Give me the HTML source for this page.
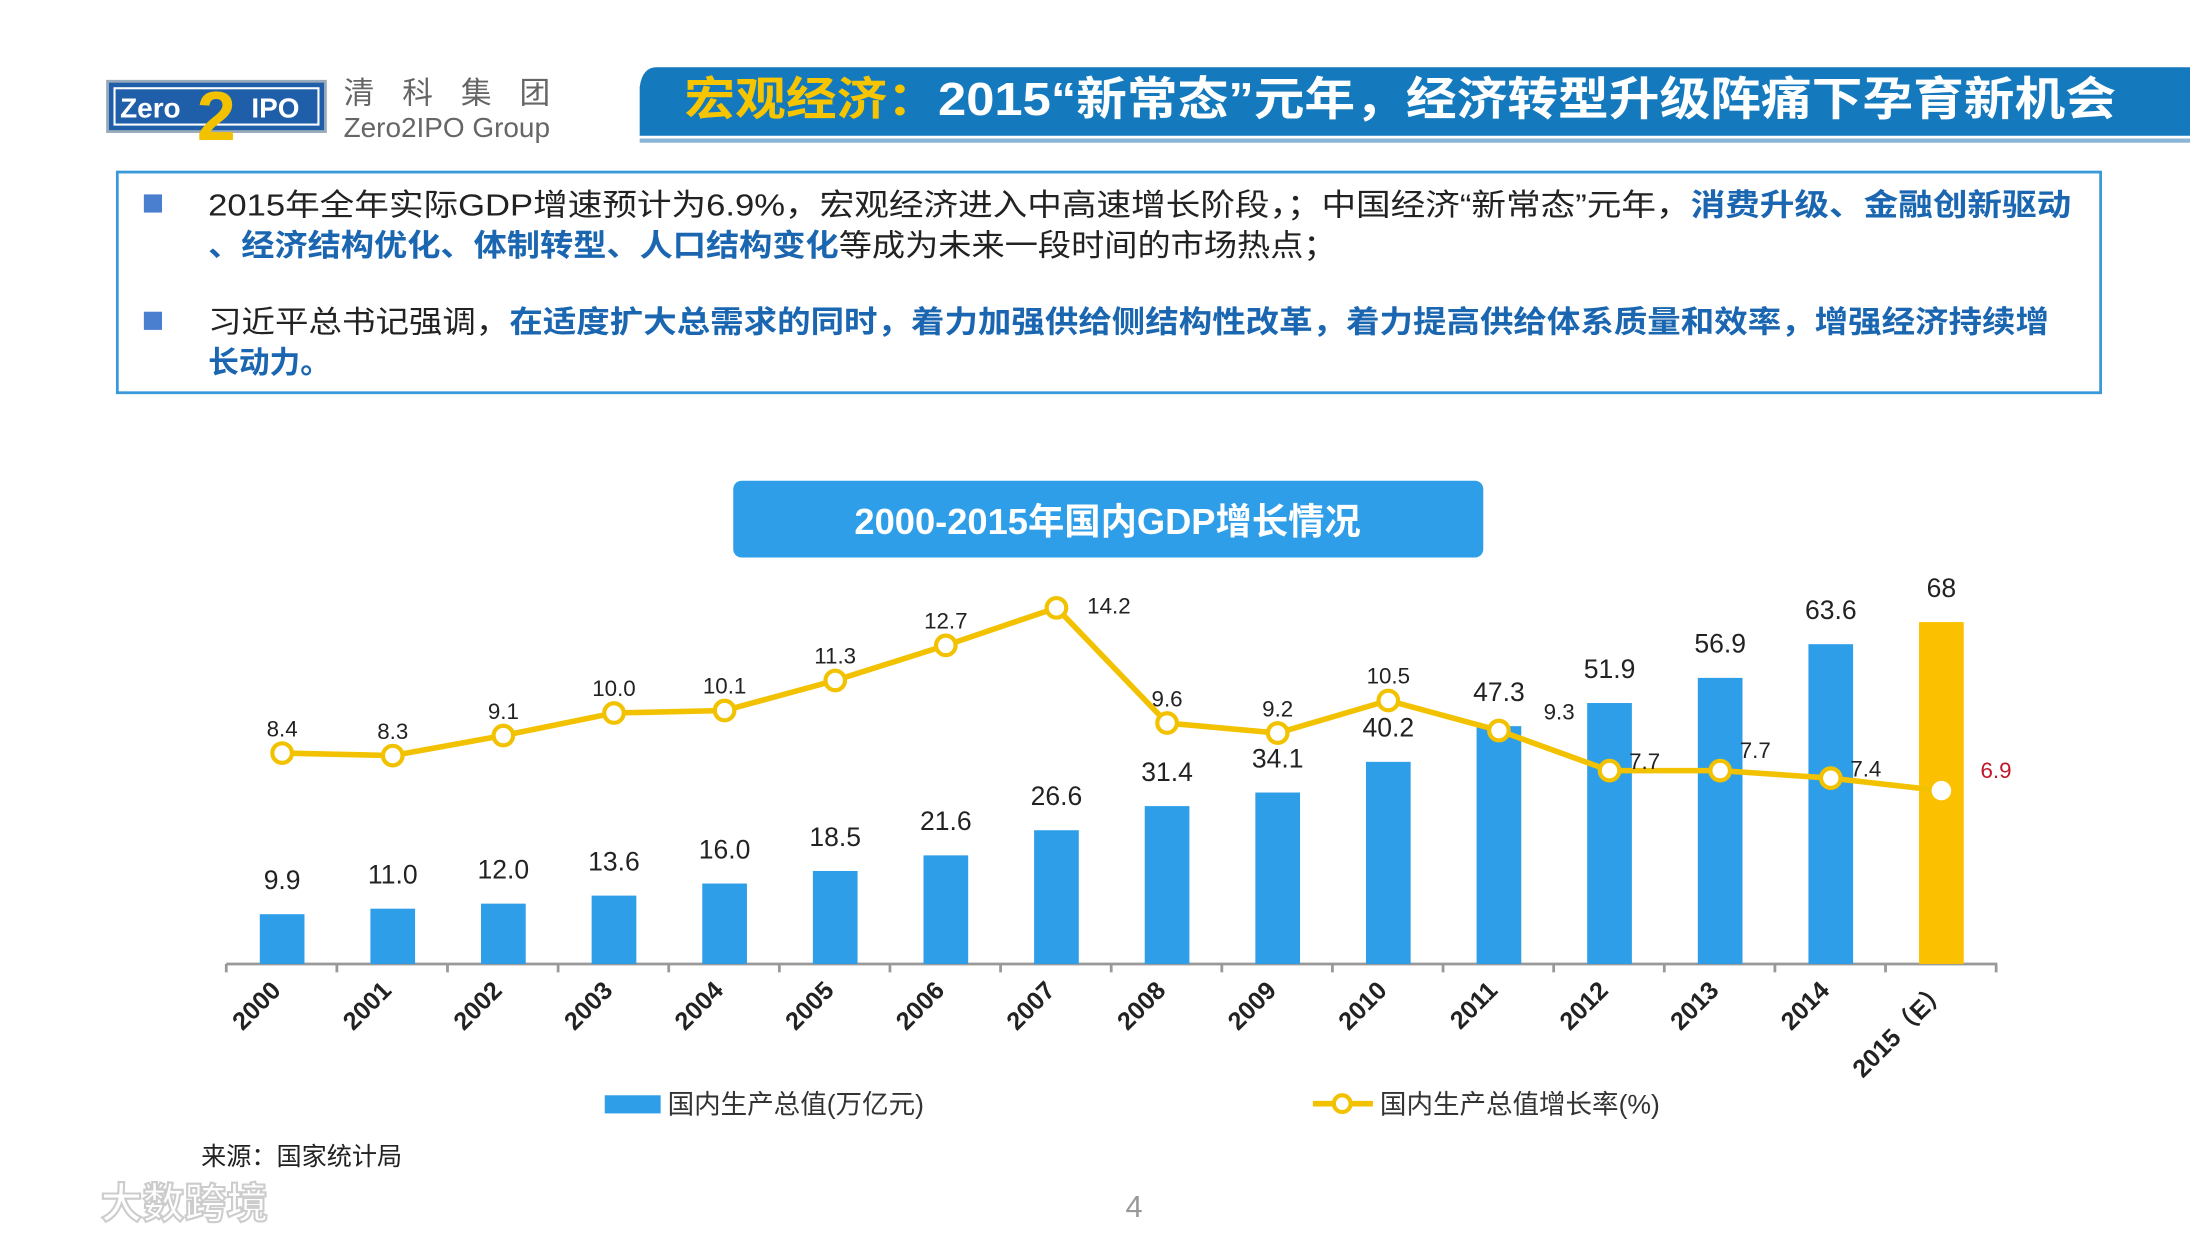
<!DOCTYPE html>
<html><head><meta charset="utf-8"><style>
html,body{margin:0;padding:0;background:#fff;}
svg{display:block;}
text{font-family:"Liberation Sans","Noto Sans CJK SC",sans-serif;}
</style></head><body>
<svg id="s" width="2190" height="1238" viewBox="0 0 1568 886" xmlns="http://www.w3.org/2000/svg">
<g>
<rect x="77" y="58" width="156" height="36" fill="#1f5ea8" stroke="#9ab" stroke-width="2"/>
<rect x="82" y="63" width="146" height="26" fill="#1f5ea8" stroke="#fff" stroke-width="1.5"/>
<text x="86" y="84" font-size="20" font-weight="bold" fill="#fff" font-family="Liberation Mono">Zero</text>
<text x="141" y="100" font-size="50" font-weight="bold" fill="#f2c200" font-family="Liberation Serif">2</text>
<text x="180" y="84" font-size="20" font-weight="bold" fill="#fff" font-family="Liberation Mono">IPO</text>
<text x="246" y="74" font-size="22" fill="#666" letter-spacing="20">清科集团</text>
<text x="246" y="98" font-size="20" fill="#666">Zero2IPO Group</text>
</g>
<g>
<path d="M470,48 L1568,48 L1568,97 L458,97 L458,62 Q460,48 470,48Z" fill="#1479bd"/>
<rect x="458" y="99" width="1110" height="3" fill="#8ab5d6"/>
<text x="490" y="82" font-size="33" font-weight="bold" fill="#f7c500" textLength="1025" lengthAdjust="spacingAndGlyphs">宏观经济：<tspan fill="#fff">2015“新常态”元年，经济转型升级阵痛下孕育新机会</tspan></text>
</g>
<g>
<rect x="84" y="123" width="1420" height="158" fill="#fff" stroke="#3a9ad9" stroke-width="2"/>
<rect x="103" y="139" width="13" height="13" fill="#4a7fd0"/>
<rect x="103" y="223" width="13" height="13" fill="#4a7fd0"/>
<text x="149" y="154" font-size="22" fill="#222" textLength="1334" lengthAdjust="spacingAndGlyphs">2015年全年实际GDP增速预计为6.9%，宏观经济进入中高速增长阶段，；中国经济“新常态”元年，<tspan fill="#1b66b0" font-weight="bold">消费升级、金融创新驱动</tspan></text>
<text x="149" y="183" font-size="22" fill="#222" textLength="808" lengthAdjust="spacingAndGlyphs"><tspan fill="#1b66b0" font-weight="bold">、经济结构优化、体制转型、人口结构变化</tspan>等成为未来一段时间的市场热点；</text>
<text x="149" y="238" font-size="22" fill="#222" textLength="1318" lengthAdjust="spacingAndGlyphs">习近平总书记强调，<tspan fill="#1b66b0" font-weight="bold">在适度扩大总需求的同时，着力加强供给侧结构性改革，着力提高供给体系质量和效率，增强经济持续增</tspan></text>
<text x="149" y="267" font-size="22" fill="#1b66b0" font-weight="bold">长动力。</text>
</g>
<g>
<rect x="525" y="344" width="537" height="55" rx="6" fill="#2f9ee8"/>
<text x="793" y="382" font-size="26" font-weight="bold" fill="#fff" text-anchor="middle">2000-2015年国内GDP增长情况</text>
</g>
<g id="chart"></g>
<g>
<rect x="433" y="784" width="40" height="13" fill="#2f9ee8"/>
<text x="478" y="797" font-size="19" fill="#333">国内生产总值(万亿元)</text>
<line x1="940" y1="790" x2="983" y2="790" stroke="#f2c200" stroke-width="4"/>
<circle cx="961" cy="790" r="6" fill="#fff" stroke="#f2c200" stroke-width="3"/>
<text x="988" y="797" font-size="19" fill="#333">国内生产总值增长率(%)</text>
</g>
<text x="144" y="834" font-size="18" fill="#222">来源：国家统计局</text>
<text x="812" y="871" font-size="22" fill="#999" text-anchor="middle">4</text>
<text x="72" y="872" font-size="30" font-weight="bold" fill="none" stroke="#ccc" stroke-width="1.5">大数跨境</text>
</svg>
<script>
const categories=["2000","2001","2002","2003","2004","2005","2006","2007","2008","2009","2010","2011","2012","2013","2014","2015（E）"];
const gdpValues=[9.9,11.0,12.0,13.6,16.0,18.5,21.6,26.6,31.4,34.1,40.2,47.3,51.9,56.9,63.6,68];
const gdpLabels=["9.9","11.0","12.0","13.6","16.0","18.5","21.6","26.6","31.4","34.1","40.2","47.3","51.9","56.9","63.6","68"];
const growthValues=[8.4,8.3,9.1,10.0,10.1,11.3,12.7,14.2,9.6,9.2,10.5,9.3,7.7,7.7,7.4,6.9];
const growthLabels=["8.4","8.3","9.1","10.0","10.1","11.3","12.7","14.2","9.6","9.2","10.5","9.3","7.7","7.7","7.4","6.9"];
const NS="http://www.w3.org/2000/svg";
const g=document.getElementById('chart');
const base=690, x0=202, step=79.2;
const xPos=i=>x0+i*step;
const yBar=v=>base-v*3.6;
const yLine=v=>539-(v-8.4)*17.93;
function mk(t,a){const e=document.createElementNS(NS,t);for(const k in a)e.setAttribute(k,a[k]);g.appendChild(e);return e;}
const ax=mk('line',{x1:162,y1:base,x2:1430,y2:base,stroke:'#999','stroke-width':2});


for(let i=0;i<=categories.length;i++){
  const t=mk('line',{x1:162+i*step,y1:base,x2:162+i*step,y2:base+6,stroke:'#999','stroke-width':2});
  
  
}
categories.forEach((c,i)=>{
  const last=i===categories.length-1;
  const x=xPos(i), y=yBar(gdpValues[i]);
  const b=mk('rect',{x:x-16,y:y,width:32,height:base-y,fill:last?'#fbc000':'#2f9ee8'});
  
  
  const bl=mk('text',{x:x,y:y-18,'font-size':19,fill:'#222','text-anchor':'middle'});
  bl.textContent=gdpLabels[i];
  
  
  const tx=x+(last?6:0), ty=base+20;
  const tl=mk('text',{x:tx,y:ty,'font-size':18,fill:'#222','font-weight':'bold','text-anchor':'end',transform:`rotate(-45 ${tx} ${ty})`});
  tl.textContent=c;
  
  
});
const pts=growthValues.map((v,i)=>xPos(i)+','+yLine(v)).join(' ');
const pl=mk('polyline',{points:pts,fill:'none',stroke:'#f2c200','stroke-width':4});


growthValues.forEach((v,i)=>{
  const x=xPos(i), y=yLine(v), last=i===growthValues.length-1;
  const c=mk('circle',{cx:x,cy:y,r:7,fill:'#fff',stroke:last?'#fbc000':'#f2c200','stroke-width':last?0:3});
  
  
  let lx=x, ly=y-12, anc='middle';
  if(i===7){lx=x+22;ly=y+4;anc='start';}
  if(i===11){lx=x+32;ly=y-8;anc='start';}
  if(i>=12&&i<=14){lx=x+14;ly=y-1;anc='start';if(i===13)ly=y-9;}
  if(last){lx=x+28;ly=y-9;anc='start';}
  const t=mk('text',{x:lx,y:ly,'font-size':16,fill:last?'#c0182a':'#222','text-anchor':anc});
  t.textContent=growthLabels[i];
  
  
});
</script>
</body></html>
